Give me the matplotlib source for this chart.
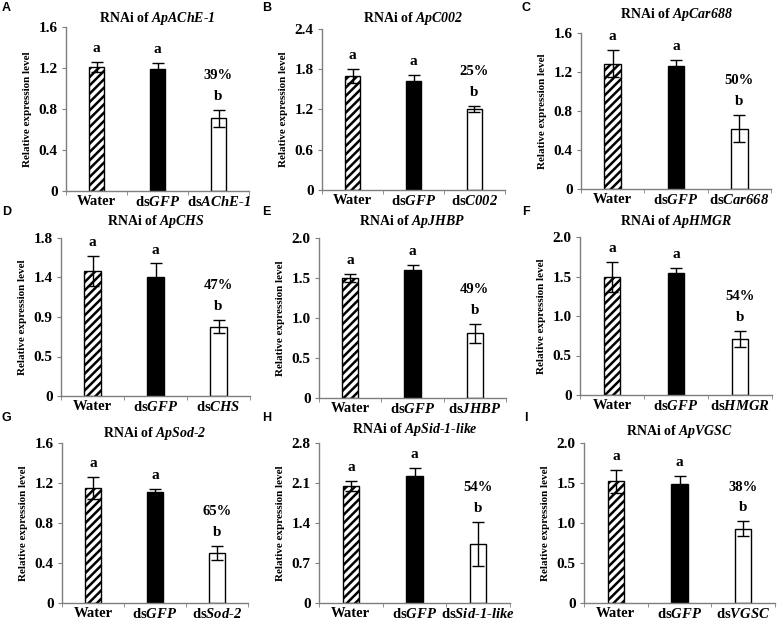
import matplotlib
matplotlib.use("Agg")
import matplotlib.pyplot as plt

plt.rcParams['font.family'] = ['Liberation Serif', 'DejaVu Serif']
plt.rcParams['mathtext.fontset'] = 'custom'
plt.rcParams['mathtext.it'] = 'Liberation Serif:italic:bold'
plt.rcParams['mathtext.rm'] = 'Liberation Serif:italic:bold'
plt.rcParams['mathtext.bf'] = 'Liberation Serif:italic:bold'
plt.rcParams['hatch.linewidth'] = 1.8

H = '\u2010'  # hyphen

panel_letters = ['A', 'B', 'C', 'D', 'E', 'F', 'G', 'H', 'I']
genes = ['ApAChE' + H + '1', 'ApC002', 'ApCar688', 'ApCHS', 'ApJHBP', 'ApHMGR',
         'ApSod' + H + '2', 'ApSid' + H + '1' + H + 'like', 'ApVGSC']
ds_targets = ['AChE' + H + '1', 'C002', 'Car668', 'CHS', 'JHBP', 'HMGR',
              'Sod' + H + '2', 'Sid' + H + '1' + H + 'like', 'VGSC']

means = [
    [1.21, 1.19, 0.71],
    [1.70, 1.63, 1.21],
    [1.285, 1.265, 0.62],
    [1.42, 1.36, 0.79],
    [1.50, 1.60, 0.81],
    [1.49, 1.55, 0.71],
    [1.155, 1.115, 0.50],
    [2.05, 2.23, 1.03],
    [1.52, 1.49, 0.93],
]
errors = [
    [0.05, 0.06, 0.085],
    [0.10, 0.09, 0.045],
    [0.14, 0.06, 0.14],
    [0.17, 0.15, 0.075],
    [0.055, 0.06, 0.12],
    [0.19, 0.06, 0.105],
    [0.11, 0.03, 0.07],
    [0.09, 0.14, 0.39],
    [0.14, 0.10, 0.09],
]
sig_letters = ['a', 'a', 'b']
percents = ['39%', '25%', '50%', '47%', '49%', '54%', '65%', '54%', '38%']

ymax = [1.6, 2.4, 1.6, 1.8, 2.0, 2.0, 1.6, 2.8, 2.0]
ytick_vals = [
    [0, 0.4, 0.8, 1.2, 1.6],
    [0, 0.6, 1.2, 1.8, 2.4],
    [0, 0.4, 0.8, 1.2, 1.6],
    [0, 0.45, 0.9, 1.35, 1.8],
    [0, 0.5, 1.0, 1.5, 2.0],
    [0, 0.5, 1.0, 1.5, 2.0],
    [0, 0.4, 0.8, 1.2, 1.6],
    [0, 0.7, 1.4, 2.1, 2.8],
    [0, 0.5, 1.0, 1.5, 2.0],
]
ytick_labels = [
    ['0', '0.4', '0.8', '1.2', '1.6'],
    ['0', '0.6', '1.2', '1.8', '2.4'],
    ['0', '0.4', '0.8', '1.2', '1.6'],
    ['0', '0.5', '0.9', '1.4', '1.8'],
    ['0', '0.5', '1.0', '1.5', '2.0'],
    ['0', '0.5', '1.0', '1.5', '2.0'],
    ['0', '0.4', '0.8', '1.2', '1.6'],
    ['0', '0.7', '1.4', '2.1', '2.8'],
    ['0', '0.5', '1.0', '1.5', '2.0'],
]

W, Hh = 778, 620
fig = plt.figure(figsize=(W / 100, Hh / 100), dpi=100)

# axes boxes in pixels: left, right, top, bottom
boxes = [
    (66, 249, 27, 191), (322, 505, 29, 190), (581, 771, 33, 189),
    (61, 250, 238, 396), (319, 506, 238, 398), (580, 772, 237, 395),
    (62, 248, 443, 603), (319, 510, 443, 603), (584, 775, 443, 603),
]
title_pads = [1, 5, 11, 9, 9, 9, 4, 7, 6]
letter_pos = [(2, 11), (262, 11), (522, 11), (2, 215), (262, 215), (522, 215),
              (2, 421), (262, 421), (524, 421)]

grey = '#7f7f7f'
fills = ['white', 'black', 'white']
hatches = ['////', None, None]

for i in range(9):
    l, r, t, b = boxes[i]
    ax = fig.add_axes([l / W, 1 - b / Hh, (r - l) / W, (b - t) / Hh])
    x = [0, 1, 2]
    for j in range(3):
        ax.bar(x[j], means[i][j], width=0.26, color=fills[j], edgecolor='black',
               linewidth=1.0, hatch=hatches[j], zorder=2)
    ax.errorbar(x, means[i], yerr=errors[i], fmt='none', ecolor='black',
                elinewidth=1.0, capsize=4, capthick=1.0, zorder=3)
    for j in range(3):
        top = means[i][j] + errors[i][j]
        ax.annotate(sig_letters[j], (x[j], top), xytext=(0, 5),
                    textcoords='offset points', ha='center', va='bottom',
                    fontsize=11, fontweight='bold')
    top = means[i][2] + errors[i][2]
    ax.annotate(percents[i], (x[2], top), xytext=(0, 20),
                textcoords='offset points', ha='center', va='bottom',
                fontsize=10.5, fontweight='bold')

    ax.set_xlim(-0.5, 2.5)
    ax.set_ylim(0, ymax[i])
    ax.set_yticks(ytick_vals[i])
    ax.set_yticklabels(ytick_labels[i], fontsize=11, fontweight='bold')
    ax.set_xticks(x)
    ax.set_xticklabels(['Water', 'ds$\\mathit{GFP}$',
                        'ds$\\mathit{' + ds_targets[i] + '}$'],
                       fontsize=10.5, fontweight='bold')
    ax.set_xticks([-0.5, 0.5, 1.5, 2.5], minor=True)
    ax.tick_params(axis='x', which='major', length=0, pad=3)
    ax.tick_params(axis='x', which='minor', length=3, direction='out', color=grey)
    ax.tick_params(axis='y', length=3, direction='out', color=grey, pad=3)
    for s in ['top', 'right']:
        ax.spines[s].set_visible(False)
    for s in ['left', 'bottom']:
        ax.spines[s].set_color(grey)
        ax.spines[s].set_linewidth(1.0)
    ax.set_ylabel('Relative expression level', fontsize=8, fontweight='bold',
                  labelpad=5)
    ax.set_title('RNAi of $\\mathit{' + genes[i] + '}$', fontsize=10,
                 fontweight='bold', pad=title_pads[i])
    px, py = letter_pos[i]
    fig.text(px / W, 1 - py / Hh, panel_letters[i], fontsize=9, fontweight='bold',
             family='Liberation Sans', ha='left', va='baseline')

fig.savefig('out.png', dpi=100)
